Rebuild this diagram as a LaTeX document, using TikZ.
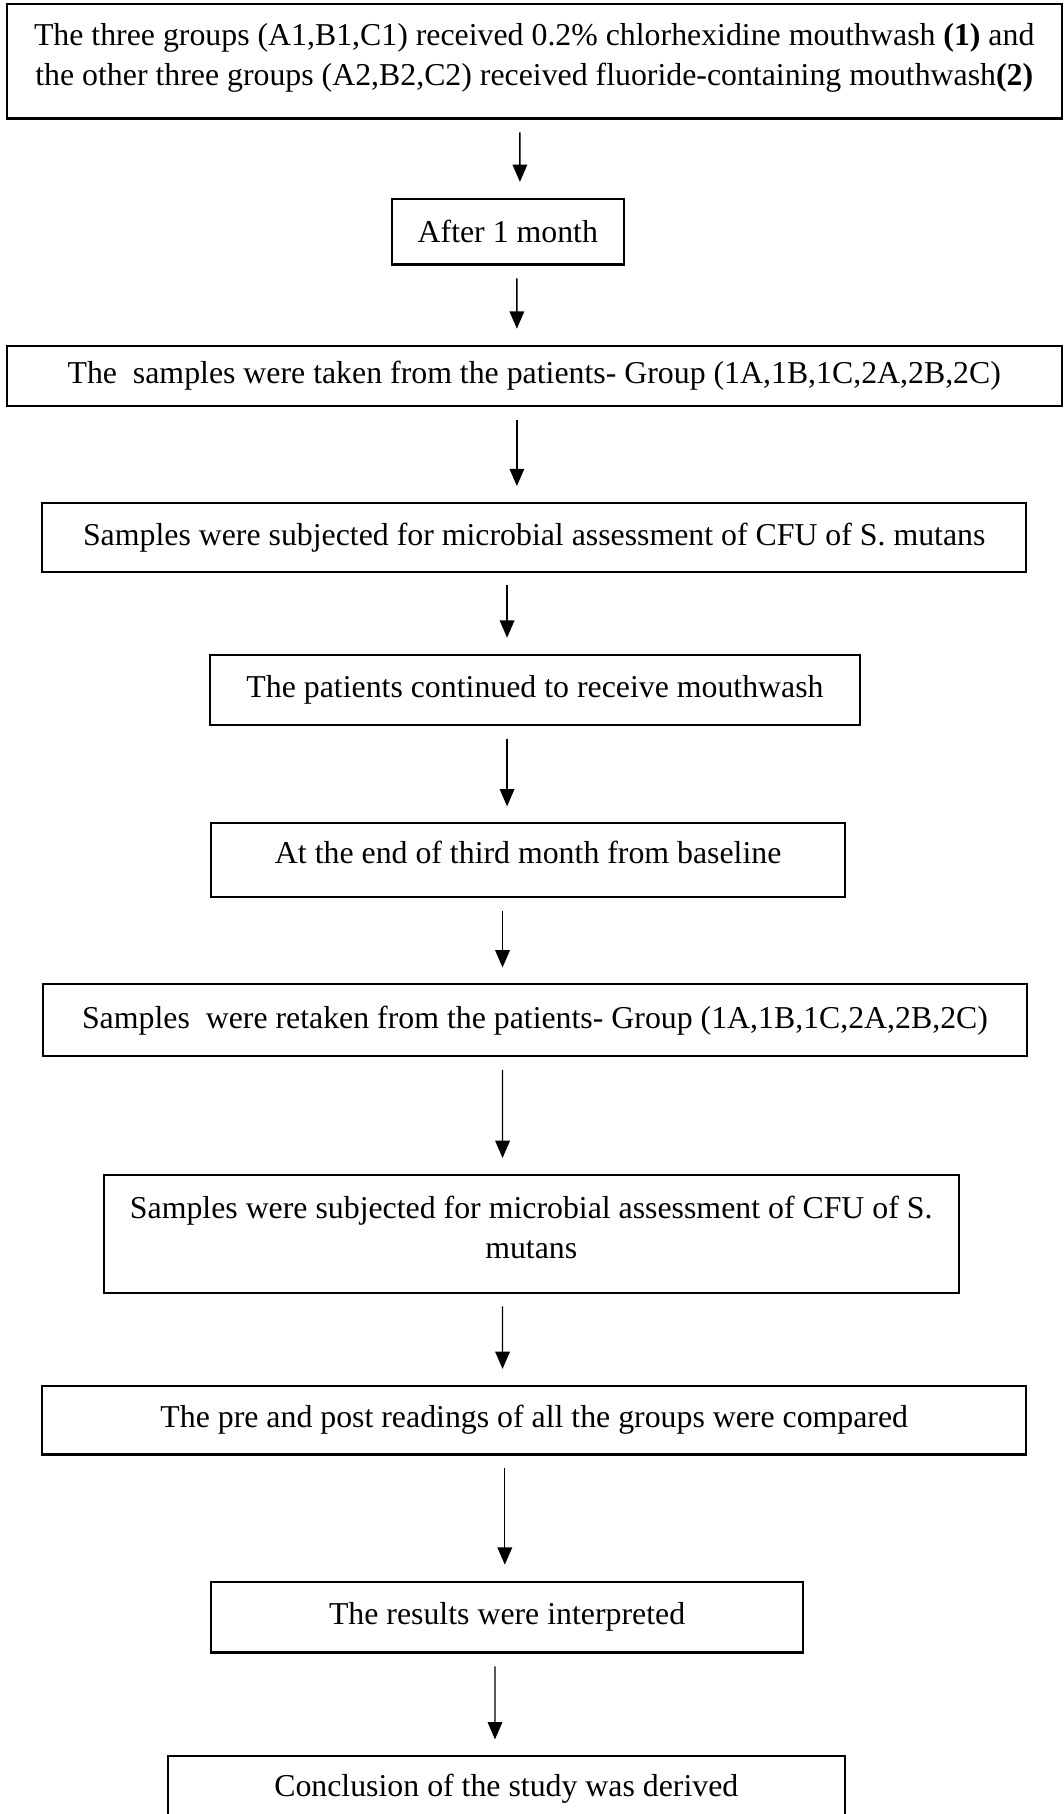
\documentclass[tikz,border=0pt]{standalone}
\usepackage{fontspec}
\setmainfont{Liberation Serif}
\usepackage{tikz}
\usetikzlibrary{arrows.meta}

\begin{document}
\begin{tikzpicture}[>={Triangle[length=6.5pt,width=5.5pt]},
    font=\fontsize{12}{15}\selectfont,
    box/.style={draw, line width=0.8pt, align=center, inner sep=0pt},
    flow/.style={->, line width=0.5pt, shorten <=0.17cm, shorten >=0.21cm}]

    \clip (0,0) rectangle (14.10,-24.04);

    \node[box, minimum width=13.98cm, minimum height=1.52cm, text depth=5pt] (b1) at (7.08,-0.81)
        {The three groups (A1,B1,C1) received 0.2\% chlorhexidine mouthwash \textbf{(1)} and\\
         the other three groups (A2,B2,C2) received fluoride-containing mouthwash\textbf{(2)}};
    \node[box, minimum width=3.07cm, minimum height=0.87cm] (b2) at (6.73,-3.07) {After 1 month};
    \node[box, minimum width=13.98cm, minimum height=0.80cm] (b3) at (7.08,-4.98)
        {The\ \ samples were taken from the patients- Group (1A,1B,1C,2A,2B,2C)};
    \node[box, minimum width=13.04cm, minimum height=0.91cm] (b4) at (7.08,-7.12)
        {Samples were subjected for microbial assessment of CFU of S. mutans};
    \node[box, minimum width=8.61cm, minimum height=0.93cm] (b5) at (7.09,-9.14)
        {The patients continued to receive mouthwash};
    \node[box, minimum width=8.40cm, minimum height=0.98cm, text depth=6pt] (b6) at (7.00,-11.40)
        {At the end of third month from baseline};
    \node[box, minimum width=13.04cm, minimum height=0.95cm] (b7) at (7.09,-13.52)
        {Samples\ \ were retaken from the patients- Group (1A,1B,1C,2A,2B,2C)};
    \node[box, minimum width=11.33cm, minimum height=1.56cm, text depth=5pt] (b8) at (7.04,-16.35)
        {Samples were subjected for microbial assessment of CFU of S.\\ mutans};
    \node[box, minimum width=13.04cm, minimum height=0.91cm] (b9) at (7.08,-18.82)
        {The pre and post readings of all the groups were compared};
    \node[box, minimum width=7.84cm, minimum height=0.94cm] (b10) at (6.72,-21.43)
        {The results were interpreted};
    \node[box, minimum width=8.97cm, minimum height=0.85cm] (b11) at (6.71,-23.70)
        {Conclusion of the study was derived};

    \draw[flow] ([xshift=-0.19cm]b1.south) -- ([xshift=0.16cm]b2.north);
    \draw[flow] ([xshift=0.12cm]b2.south) -- ([xshift=-0.23cm]b3.north);
    \draw[flow] ([xshift=-0.23cm]b3.south) -- ([xshift=-0.23cm]b4.north);
    \draw[flow] ([xshift=-0.36cm]b4.south) -- ([xshift=-0.37cm]b5.north);
    \draw[flow] ([xshift=-0.37cm]b5.south) -- ([xshift=-0.28cm]b6.north);
    \draw[flow] ([xshift=-0.34cm]b6.south) -- ([xshift=-0.43cm]b7.north);
    \draw[flow] ([xshift=-0.43cm]b7.south) -- ([xshift=-0.38cm]b8.north);
    \draw[flow] ([xshift=-0.38cm]b8.south) -- ([xshift=-0.42cm]b9.north);
    \draw[flow] ([xshift=-0.39cm]b9.south) -- ([xshift=-0.03cm]b10.north);
    \draw[flow] ([xshift=-0.16cm]b10.south) -- ([xshift=-0.15cm]b11.north);
  \end{tikzpicture}
\end{document}
